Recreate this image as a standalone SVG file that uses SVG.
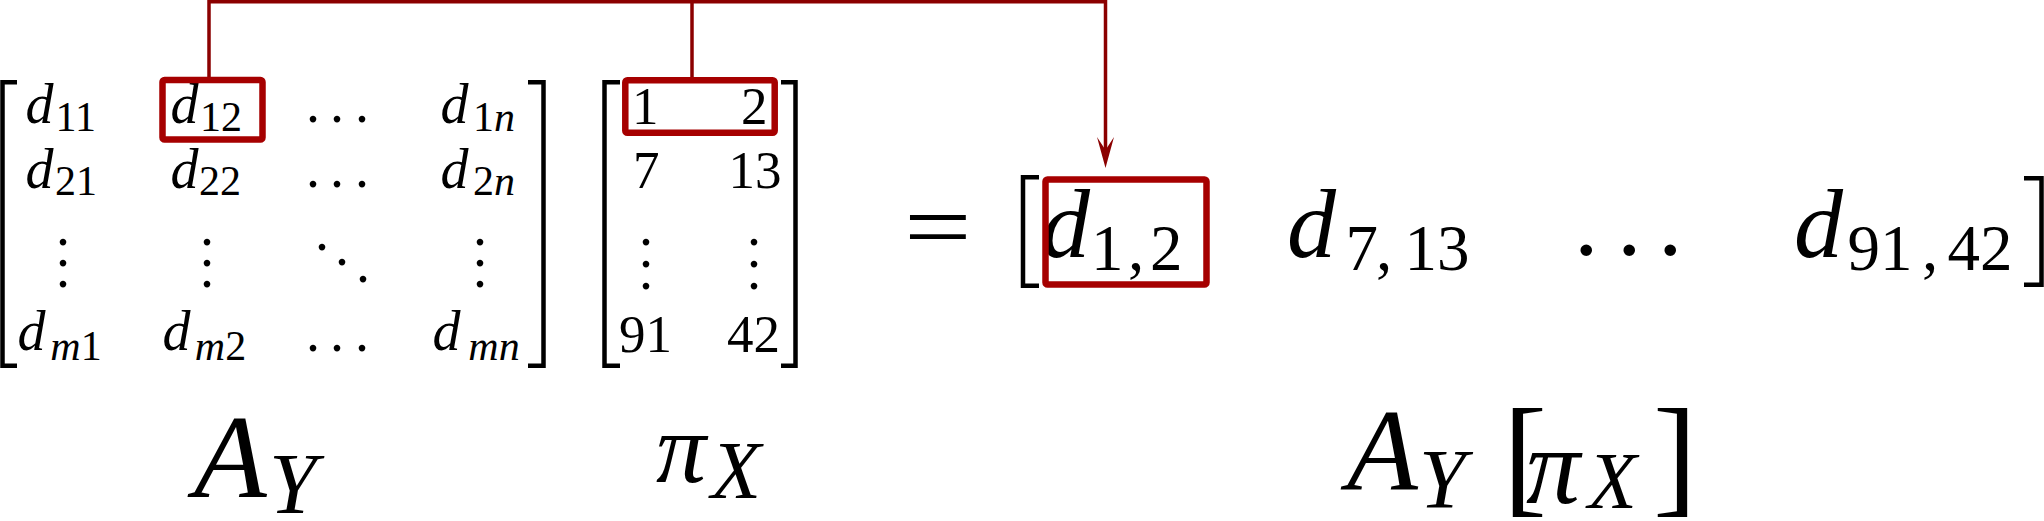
<svg xmlns="http://www.w3.org/2000/svg" width="2044" height="521" viewBox="0 0 2044 521">
<style>
.m { font-family: "Liberation Serif", "Times New Roman", serif; fill: #000; }
.i { font-style: italic; }
.d { font-size: 56px; font-style: italic; }
.s { font-size: 42px; font-style: normal; }
.n { font-size: 53px; }
.dt { font-size: 56px; }
.D { font-size: 98px; font-style: italic; }
.S { font-size: 65px; font-style: normal; }
.br { fill: none; stroke: #000; stroke-width: 4.5; }
.box { fill: none; stroke: #a60000; stroke-width: 6.5; }
.conn { fill: none; stroke: #8b0000; stroke-width: 3.5; }
</style>
<defs>
<marker id="arr" markerUnits="userSpaceOnUse" markerWidth="31" markerHeight="17" viewBox="0 0 31 17" refX="13" refY="8.5" orient="auto">
<path d="M0,0 L31,8.5 L0,17 L13,8.5 Z" fill="#8b0000"/>
</marker>
</defs>
<rect width="2044" height="521" fill="#fff"/>

<g id="connectors">
<path class="conn" d="M209,77 V1.75 H1105.5 V150" marker-end="url(#arr)"/>
<path class="conn" d="M692,77 V1.75"/>
</g>

<g id="matrixA">
<path class="br" d="M17,82.2 H2.5 V365.8 H17"/>
<path class="br" d="M528,82.2 H543.5 V365.8 H528"/>
<text class="m"><tspan class="d" x="25.5" y="123">d</tspan><tspan class="s" x="55.5" y="131">11</tspan></text>
<text class="m"><tspan class="d" x="170.5" y="123">d</tspan><tspan class="s" x="200" y="131">12</tspan></text>
<text class="m dt" x="306 330 355" y="122">...</text>
<text class="m"><tspan class="d" x="440.5" y="123">d</tspan><tspan class="s" x="473" y="131">1<tspan class="i">n</tspan></tspan></text>
<text class="m"><tspan class="d" x="25.5" y="188">d</tspan><tspan class="s" x="55" y="195">21</tspan></text>
<text class="m"><tspan class="d" x="170.5" y="188">d</tspan><tspan class="s" x="199" y="195">22</tspan></text>
<text class="m dt" x="306 330 355" y="187">...</text>
<text class="m"><tspan class="d" x="440.5" y="188">d</tspan><tspan class="s" x="473" y="195">2<tspan class="i">n</tspan></tspan></text>
<text class="m dt" x="56 56 56" y="245 266 287">...</text>
<text class="m dt" x="200 200 200" y="245 266 287">...</text>
<text class="m dt" x="315 335 356" y="250 265 282">...</text>
<text class="m dt" x="473 473 473" y="245 266 287">...</text>
<text class="m"><tspan class="d" x="17.5" y="350">d</tspan><tspan class="s" x="50.3" y="360"><tspan class="i">m</tspan>1</tspan></text>
<text class="m"><tspan class="d" x="162.5" y="350">d</tspan><tspan class="s" x="194.8" y="360"><tspan class="i">m</tspan>2</tspan></text>
<text class="m dt" x="306 330 355" y="351">...</text>
<text class="m"><tspan class="d" x="432.5" y="350">d</tspan><tspan class="s" x="468.3" y="360"><tspan class="i">mn</tspan></tspan></text>
<rect class="box" x="162.5" y="80" width="100" height="59.5" rx="2"/>
</g>

<g id="matrixPi">
<path class="br" d="M620,82.2 H604.5 V365.8 H620"/>
<path class="br" d="M781,82.2 H795.5 V365.8 H781"/>
<text class="m n" x="632" y="124">1</text>
<text class="m n" x="741" y="124">2</text>
<text class="m n" x="633" y="188">7</text>
<text class="m n" x="728.5" y="188">13</text>
<text class="m dt" x="639 639 639" y="245 267 289">...</text>
<text class="m dt" x="747 747 747" y="245 267 289">...</text>
<text class="m n" x="619" y="352">91</text>
<text class="m n" x="727" y="352">42</text>
<rect class="box" x="625.3" y="80.3" width="149.4" height="52.4" rx="2"/>
</g>

<g id="equals">
<text class="m" font-size="120" transform="translate(904,259) scale(1,0.82)">=</text>
</g>

<g id="rowVector">
<path class="br" d="M1039,177.2 H1023 V285.8 H1039"/>
<path class="br" d="M2024,178.2 H2041.5 V284.8 H2024"/>
<text class="m"><tspan class="D" x="1041" y="257">d</tspan><tspan class="S" x="1091 1128 1150" y="270">1,2</tspan></text>
<text class="m"><tspan class="D" x="1287" y="257">d</tspan><tspan class="S" x="1345.5 1376 1404.5" y="270">7,13</tspan></text>
<text class="m D" style="font-style:normal" x="1574 1617 1658" y="255">...</text>
<text class="m"><tspan class="D" x="1794" y="257">d</tspan><tspan class="S" x="1847.5 1880 1922 1947.5" y="270">91,42</tspan></text>
<rect class="box" x="1045.5" y="179.5" width="161" height="105" rx="2"/>
</g>

<g id="labelA">
<text class="m i"><tspan x="194" y="497" font-size="119">A</tspan><tspan x="269" y="513" font-size="86">Y</tspan></text>
</g>
<g id="labelPi">
<text class="m i"><tspan x="656" y="482" font-size="100">π</tspan><tspan x="711" y="498" font-size="82">X</tspan></text>
</g>
<g id="labelResult">
<text class="m"><tspan class="i" x="1347" y="490" font-size="116">A</tspan><tspan class="i" x="1419" y="508" font-size="84">Y</tspan><tspan x="1503" y="499" font-size="132">[</tspan><tspan class="i" x="1526" y="503" font-size="108">π</tspan><tspan class="i" x="1588" y="508" font-size="80">X</tspan><tspan x="1653" y="499" font-size="132">]</tspan></text>
</g>
</svg>
